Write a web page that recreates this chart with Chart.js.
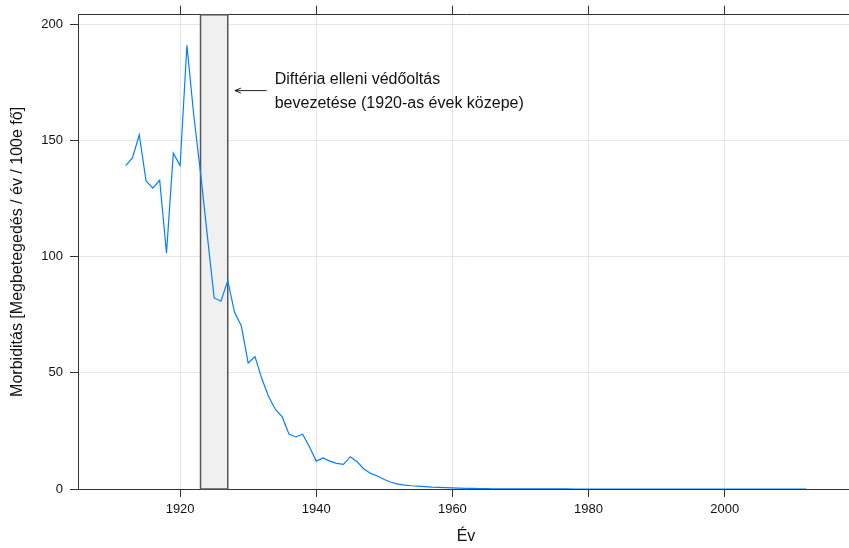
<!DOCTYPE html>
<html lang="hu">
<head>
<meta charset="utf-8">
<title>Diftéria morbiditás</title>
<script src="https://cdn.jsdelivr.net/npm/chart.js@4.4.1/dist/chart.umd.min.js"></script>
<style>
  html, body { margin: 0; padding: 0; background: #fff; overflow: hidden; }
  #wrap { width: 849px; height: 548px; overflow: hidden; }
  canvas { display: block; }
</style>
</head>
<body>
<div id="wrap"><canvas id="chart" width="854" height="548"></canvas></div>
<script>
// Évek (1912–2012)
const years = [];
for (let y = 1912; y <= 2012; y++) years.push(y);

// Morbiditás: megbetegedés / év / 100 ezer fő
const morbidity = [
  139.1, 142.4, 152.4, 132.5, 129.4, 132.8, 101.5, 144.5, 139.1, 190.9, // 1912–1921
  161.0, 136.0, 109.0, 82.2, 80.8, 89.6, 76.0, 70.1, 54.2, 57.0,        // 1922–1931
  47.5, 39.8, 34.2, 31.0, 23.6, 22.4, 23.6, 18.2, 12.0, 13.4,           // 1932–1941
  12.0, 11.0, 10.6, 13.9, 11.7, 8.6, 6.7, 5.6, 4.1, 2.9,                // 1942–1951
  2.1, 1.7, 1.4, 1.2, 1.0, 0.8, 0.7, 0.6, 0.5, 0.4,                     // 1952–1961
  0.3, 0.3, 0.2, 0.2, 0.1, 0.1, 0.1, 0.1, 0.1, 0.05,                    // 1962–1971
  0.05, 0.05, 0.05, 0.02, 0.02, 0.02, 0.01, 0.01, 0.01, 0.0,            // 1972–1981
  0, 0, 0, 0, 0, 0, 0, 0, 0, 0,                                         // 1982–1991
  0, 0, 0, 0, 0, 0, 0, 0, 0, 0,                                         // 1992–2001
  0, 0, 0, 0, 0, 0, 0, 0, 0, 0, 0                                       // 2002–2012
];

const xTicks = [1920, 1940, 1960, 1980, 2000];
const yTicks = [0, 50, 100, 150, 200];

// Védőoltás bevezetésének időszaka
const vaccineStart = 1923;
const vaccineEnd = 1927;
const noteLines = ['Diftéria elleni védőoltás', 'bevezetése (1920-as évek közepe)'];

const FONT = "'Liberation Sans', Arial, Helvetica, sans-serif";
const FRAME = '#333333';
const GRID = '#e6e6e6';

const points = years.map((yr, i) => ({ x: yr, y: morbidity[i] }));

const fixTicks = values => scale => { scale.ticks = values.map(v => ({ value: v })); };

const annotate = {
  id: 'vaccineNote',
  beforeDatasetsDraw(chart) {
    const { ctx, chartArea, scales } = chart;
    const x0 = scales.x.getPixelForValue(vaccineStart);
    const x1 = scales.x.getPixelForValue(vaccineEnd);
    ctx.save();
    ctx.fillStyle = '#f0f0f0';
    ctx.fillRect(x0, chartArea.top, x1 - x0, chartArea.bottom - chartArea.top);
    ctx.strokeStyle = '#555555';
    ctx.lineWidth = 1.5;
    ctx.strokeRect(x0, chartArea.top, x1 - x0, chartArea.bottom - chartArea.top);
    ctx.restore();
  },
  afterDatasetsDraw(chart) {
    const { ctx, scales } = chart;
    const xs = scales.x, ys = scales.y;
    const ay = ys.getPixelForValue(171.4);
    const ax0 = xs.getPixelForValue(1928.05);
    const ax1 = xs.getPixelForValue(1932.7);
    ctx.save();
    ctx.strokeStyle = '#222';
    ctx.lineWidth = 1;
    ctx.beginPath();
    ctx.moveTo(ax1, ay); ctx.lineTo(ax0, ay);
    ctx.moveTo(ax0 + 6, ay - 2.5); ctx.lineTo(ax0, ay); ctx.lineTo(ax0 + 6, ay + 2.5);
    ctx.stroke();
    ctx.fillStyle = '#111';
    ctx.font = '16px ' + FONT;
    ctx.textAlign = 'left';
    ctx.textBaseline = 'middle';
    const tx = xs.getPixelForValue(1933.9);
    ctx.fillText(noteLines[0], tx, ys.getPixelForValue(176.2));
    ctx.fillText(noteLines[1], tx, ys.getPixelForValue(165.7));
    ctx.restore();
  }
};

new Chart(document.getElementById('chart'), {
  type: 'line',
  data: {
    datasets: [{
      data: points,
      borderColor: '#0080ff',
      borderWidth: 1.2,
      pointRadius: 0,
      tension: 0,
      fill: false
    }]
  },
  options: {
    responsive: false,
    animation: false,
    devicePixelRatio: 1,
    layout: { padding: 0 },
    plugins: { legend: { display: false }, tooltip: { enabled: false } },
    scales: {
      x: {
        type: 'linear',
        position: 'bottom',
        min: 1905, max: 2019,
        afterBuildTicks: fixTicks(xTicks),
        afterFit: s => { s.height = 59; },
        ticks: { color: '#111', font: { family: FONT, size: 13 }, padding: 5, autoSkip: false, maxRotation: 0,
                 callback: v => String(v) },
        grid: { color: GRID, tickColor: FRAME, tickLength: 8, lineWidth: 1 },
        border: { display: true, color: FRAME, width: 1 },
        title: { display: true, text: 'Év', color: '#111', font: { family: FONT, size: 16 }, padding: { top: 0, bottom: 2 } }
      },
      xTop: {
        type: 'linear',
        position: 'top',
        min: 1905, max: 2019,
        afterBuildTicks: fixTicks(xTicks),
        afterFit: s => { s.height = 14; },
        ticks: { color: 'rgba(0,0,0,0)', font: { family: FONT, size: 1 }, padding: 0, autoSkip: false, maxRotation: 0 },
        grid: { drawOnChartArea: false, tickColor: FRAME, tickLength: 9 },
        border: { display: true, color: FRAME, width: 1 }
      },
      y: {
        type: 'linear',
        position: 'left',
        min: 0, max: 204,
        afterBuildTicks: fixTicks(yTicks),
        afterFit: s => { s.width = 78; },
        ticks: { color: '#111', font: { family: FONT, size: 13 }, padding: 7, autoSkip: false },
        grid: { color: GRID, tickColor: FRAME, tickLength: 8, lineWidth: 1 },
        border: { display: true, color: FRAME, width: 1 },
        title: { display: true, text: 'Morbiditás [Megbetegedés / év / 100e fő]', color: '#111',
                 font: { family: FONT, size: 16 }, padding: { top: 8, bottom: 0 } }
      }
    }
  },
  plugins: [annotate]
});
</script>
</body>
</html>
